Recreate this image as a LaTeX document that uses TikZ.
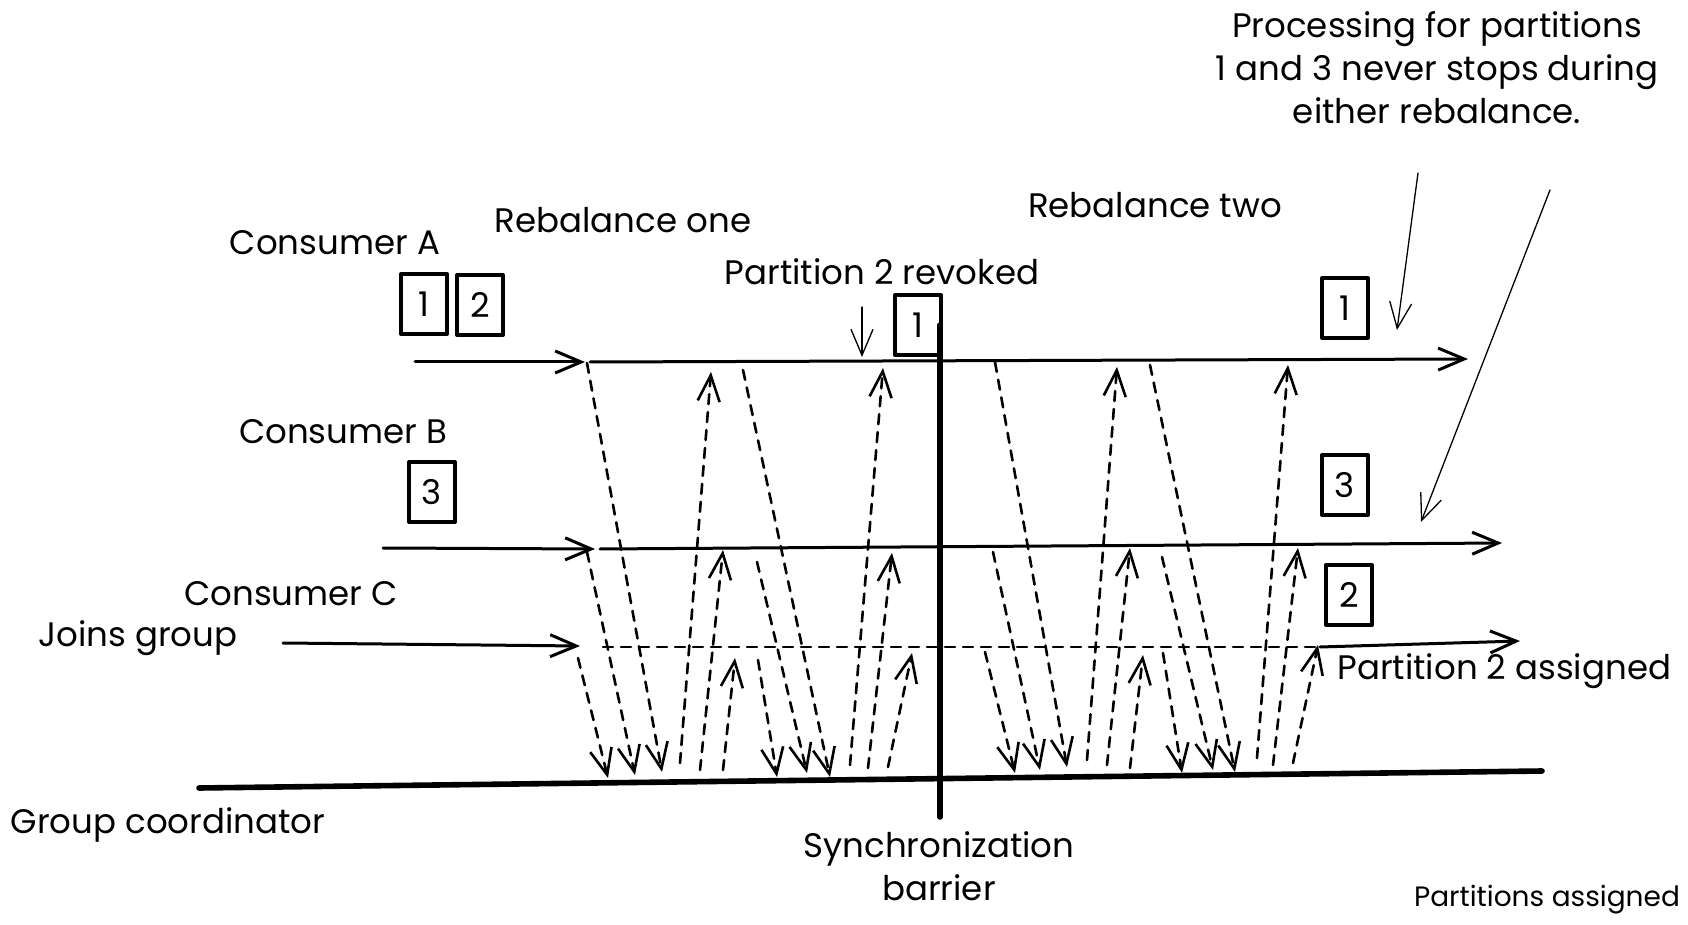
\documentclass[tikz,border=0pt]{standalone}
\usepackage{fontspec}
\setmainfont{Poppins}
\usetikzlibrary{arrows.meta}
\tikzset{
	lifeline/.style={line width=1.5pt,->},
	msg/.style={line width=1.3pt,dash pattern=on 5pt off 4pt,->},
	part/.style={draw,line width=2pt,minimum width=23pt,minimum height=30pt,inner sep=0pt,font=\fontsize{17}{20}\selectfont},
	lbl/.style={inner sep=0pt,font=\fontsize{17}{21.5}\selectfont},
	note/.style={line width=0.65pt,->}
}
\begin{document}
\begin{tikzpicture}[x=0.5pt,y=-0.5pt,>={Straight Barb[length=13pt,width=11pt]}, line join=round, line cap=round]
	\useasboundingbox (0,0) rectangle (1688,925);
	% labels
	\node[lbl] (consA) at (335,243) {Consumer A};
	\node[lbl] (consB) at (343,432) {Consumer B};
	\node[lbl] (consC) at (291,594) {Consumer C};
	\node[lbl] (joins) at (138,638) {Joins group};
	\node[lbl] (coord) at (168,825) {Group coordinator};
	\node[lbl] (rebone) at (623,220) {Rebalance one};
	\node[lbl] (rebtwo) at (1155,205) {Rebalance two};
	\node[lbl] (revoked) at (882,272) {Partition 2 revoked};
	\node[lbl,align=center] (proc) at (1437,68) {Processing for partitions\\1 and 3 never stops during\\either rebalance.};
	\node[lbl,align=center] (barrier) at (939,866) {Synchronization\\barrier};
	\node[lbl,anchor=west] (assigned) at (1337,671) {Partition 2 assigned};
	\node[inner sep=0pt,font=\fontsize{14}{16}\selectfont] (allassigned) at (1547,900) {Partitions assigned};
	% partitions
	\node[part] (pA1) at (424,304) {1};
	\node[part] (pA2) at (480,305) {2};
	\node[part] (pB3) at (432,492) {3};
	\node[part] (pR1) at (918,325) {1};
	\node[part] (qA1) at (1345,308) {1};
	\node[part] (qB3) at (1345,485) {3};
	\node[part] (qC2) at (1349,595) {2};
	% consumers
	\coordinate (A0) at (415,362); \coordinate (A1) at (585,362);
	\coordinate (A2) at (590,362); \coordinate (A3) at (1468,359);
	\coordinate (B0) at (383,548); \coordinate (B1) at (595,549);
	\coordinate (B2) at (600,549); \coordinate (B3) at (1502,543);
	\coordinate (C0) at (283,643); \coordinate (C1) at (580,646);
	\coordinate (C2) at (603,647); \coordinate (C3) at (1320,647); \coordinate (C4) at (1520,641);
	\draw[lifeline] (A0)--(A1);
	\draw[lifeline] (A2)--(A3);
	\draw[lifeline] (B0)--(B1);
	\draw[lifeline] (B2)--(B3);
	\draw[lifeline] (C0)--(C1);
	\draw[line width=1.3pt,dash pattern=on 5pt off 4pt] (C2)--(C3);
	\draw[lifeline] (C3)--(C4);
	% coordinator and barrier
	\coordinate (G0) at (199,788); \coordinate (G1) at (1542,771);
	\coordinate (S0) at (940,325); \coordinate (S1) at (940,817);
	\draw[line width=2.8pt] (G0)--(G1);
	\draw[line width=2.8pt] (S0)--(S1);
	% requests and responses
	\foreach \i/\xa/\ya/\xb/\yb in {1/587/363/662/772, 2/587/552/635/775, 3/578/658/608/778,
		4/680/763/711/372, 5/700/770/723/550, 6/723/770/735/658,
		7/743/370/830/777, 8/757/562/807/773, 9/758/660/777/777,
		10/850/765/883/368, 11/868/768/892/553, 12/888/767/912/653,
		13/995/362/1067/767, 14/993/552/1040/770, 15/985/652/1015/773,
		16/1087/760/1117/367, 17/1107/765/1130/548, 18/1130/768/1143/655,
		19/1150/365/1235/772, 20/1162/557/1213/770, 21/1163/653/1182/773,
		22/1257/758/1288/365, 23/1273/765/1298/548, 24/1293/763/1318/645}{
		\coordinate (s\i) at (\xa,\ya);
		\coordinate (t\i) at (\xb,\yb);
		\draw[msg] (s\i)--(t\i);
	}
	% notes
	\coordinate (rv0) at (862,307); \coordinate (rv1) at (862,357);
	\draw[note] (rv0)--(rv1);
	\coordinate (n0) at (1418,173); \coordinate (n1) at (1397,330);
	\coordinate (n2) at (1550,190); \coordinate (n3) at (1421,522);
	\draw[note] (n0)--(n1);
	\draw[note] (n2)--(n3);
\end{tikzpicture}
\end{document}
